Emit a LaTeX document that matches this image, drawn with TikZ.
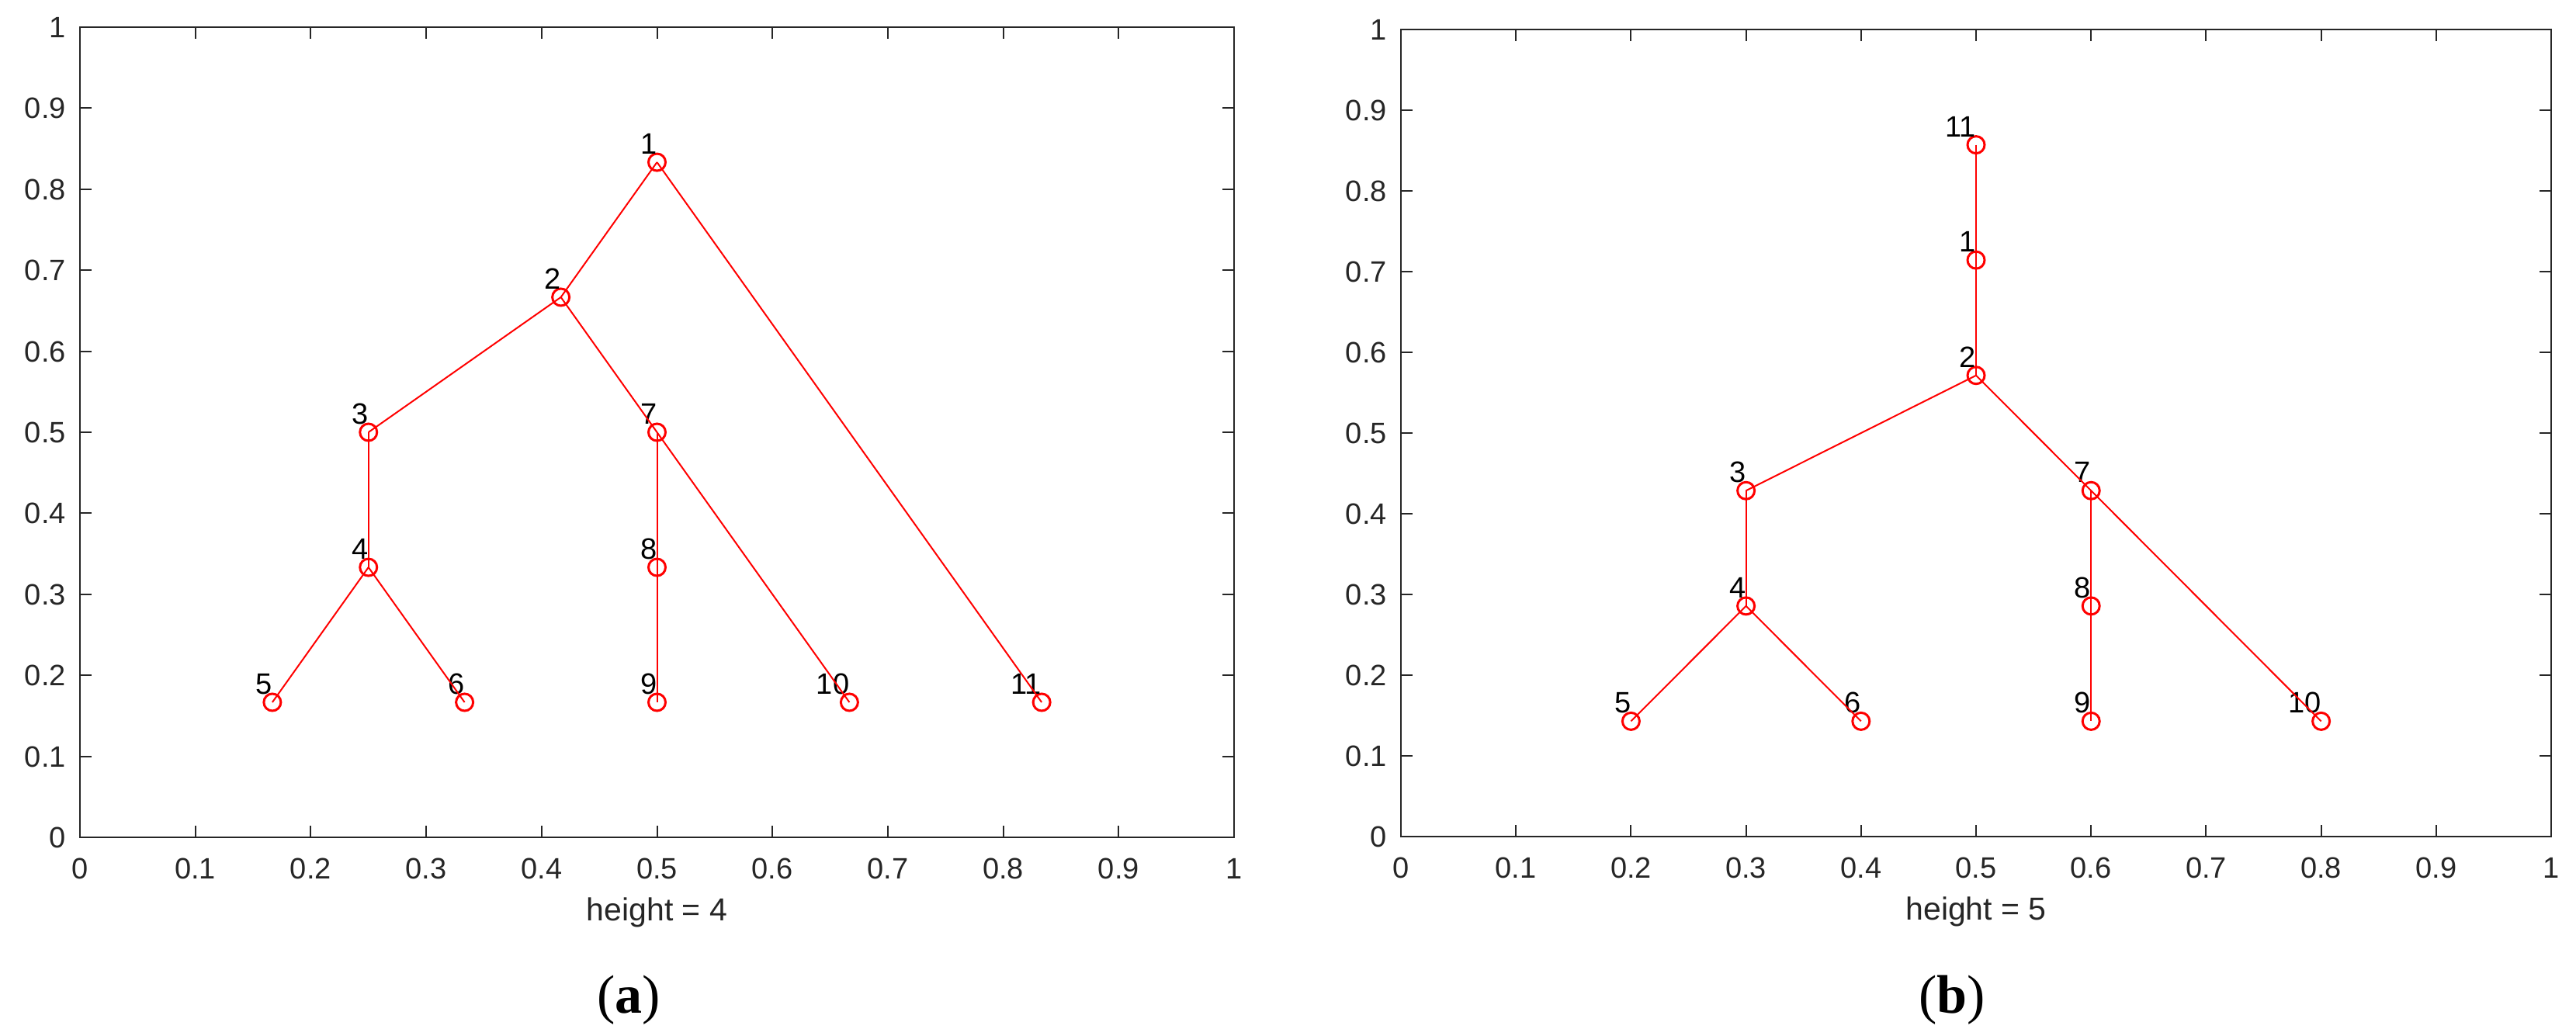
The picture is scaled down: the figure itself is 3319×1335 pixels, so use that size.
\documentclass[tikz,border=0pt]{standalone}
\usepackage{fontspec}
\setmainfont{Liberation Sans}
\newfontfamily\capfont{Liberation Serif}
\definecolor{axgray}{HTML}{262626}
\newcommand\axesframe[1]{%
  \draw[axisline] (0,0) rectangle (1,1);
  \foreach \i in {0,...,10}{%
    \pgfmathsetmacro\tpos{\i/10}
    \draw[axisline] (\tpos,0) -- ++(0pt,15pt) (\tpos,1) -- ++(0pt,-15pt)
                    (0,\tpos) -- ++(15pt,0pt) (1,\tpos) -- ++(-15pt,0pt);
    \ifnum\i=0 \def\ticktext{0}\else\ifnum\i=10 \def\ticktext{1}\else\def\ticktext{0.\i}\fi\fi
    \node[ticklab, anchor=base] (#1x\i) at (\tpos,0) [yshift=-53pt] {\ticktext};
    \node[ticklab, anchor=base east] (#1y\i) at (0,\tpos) [xshift=-18pt, yshift=-13.5pt] {\ticktext};
  }}
\begin{document}
\begin{tikzpicture}[x=1pt,y=-1pt,
  axisline/.style={draw=axgray, line width=2pt},
  ticklab/.style={text=axgray, font=\fontsize{38}{40}\selectfont, inner sep=0pt},
  titlelab/.style={text=axgray, font=\fontsize{41}{43}\selectfont, inner sep=0pt, anchor=base},
  treenode/.style={circle, draw=red, line width=3pt, minimum size=22pt, inner sep=0pt},
  treeedge/.style={draw=red, line width=2pt},
  nodelab/.style={font=\fontsize{38}{40}\selectfont, inner sep=0pt, anchor=base east, yshift=10.5pt, text=black},
  caplab/.style={font=\capfont\fontsize{70}{72}\selectfont, inner sep=0pt, anchor=base}]
\useasboundingbox (0,0) rectangle (3319,1335);
% panel (a)
\begin{scope}[shift={(103,1079)}, x=1487pt, y=1044pt]
  \axesframe{a}
  \foreach \n/\px/\py in {1/0.5/0.8333, 2/0.4167/0.6667, 3/0.25/0.5, 7/0.5/0.5,
      4/0.25/0.3333, 8/0.5/0.3333, 5/0.1667/0.1667, 6/0.3333/0.1667,
      9/0.5/0.1667, 10/0.6667/0.1667, 11/0.8333/0.1667}{
    \node[treenode] (a\n) at (\px,\py) {};
    \node[nodelab] (la\n) at (a\n.center) {\n};
  }
  \foreach \u/\v in {1/2, 1/11, 2/3, 2/7, 3/4, 4/5, 4/6, 7/8, 8/9, 7/10}
    \draw[treeedge] (a\u.center) -- (a\v.center);
  \node[titlelab] (atitle) at (0.5,0) [yshift=-107pt] {height = 4};
\end{scope}
% panel (b)
\begin{scope}[shift={(1805,1078)}, x=1482pt, y=1040pt]
  \axesframe{b}
  \foreach \n/\px/\py in {11/0.5/0.8571, 1/0.5/0.7143, 2/0.5/0.5714, 3/0.3/0.4286,
      7/0.6/0.4286, 4/0.3/0.2857, 8/0.6/0.2857, 5/0.2/0.1429, 6/0.4/0.1429,
      9/0.6/0.1429, 10/0.8/0.1429}{
    \node[treenode] (b\n) at (\px,\py) {};
    \node[nodelab] (lb\n) at (b\n.center) {\n};
  }
  \foreach \u/\v in {11/1, 1/2, 2/3, 2/7, 3/4, 4/5, 4/6, 7/8, 8/9, 7/10}
    \draw[treeedge] (b\u.center) -- (b\v.center);
  \node[titlelab] (btitle) at (0.5,0) [yshift=-107pt] {height = 5};
\end{scope}
\node[caplab] (capa) at (810,1305) {(\textbf{a})};
\node[caplab] (capb) at (2515,1305) {(\textbf{b})};
\end{tikzpicture}
\end{document}
